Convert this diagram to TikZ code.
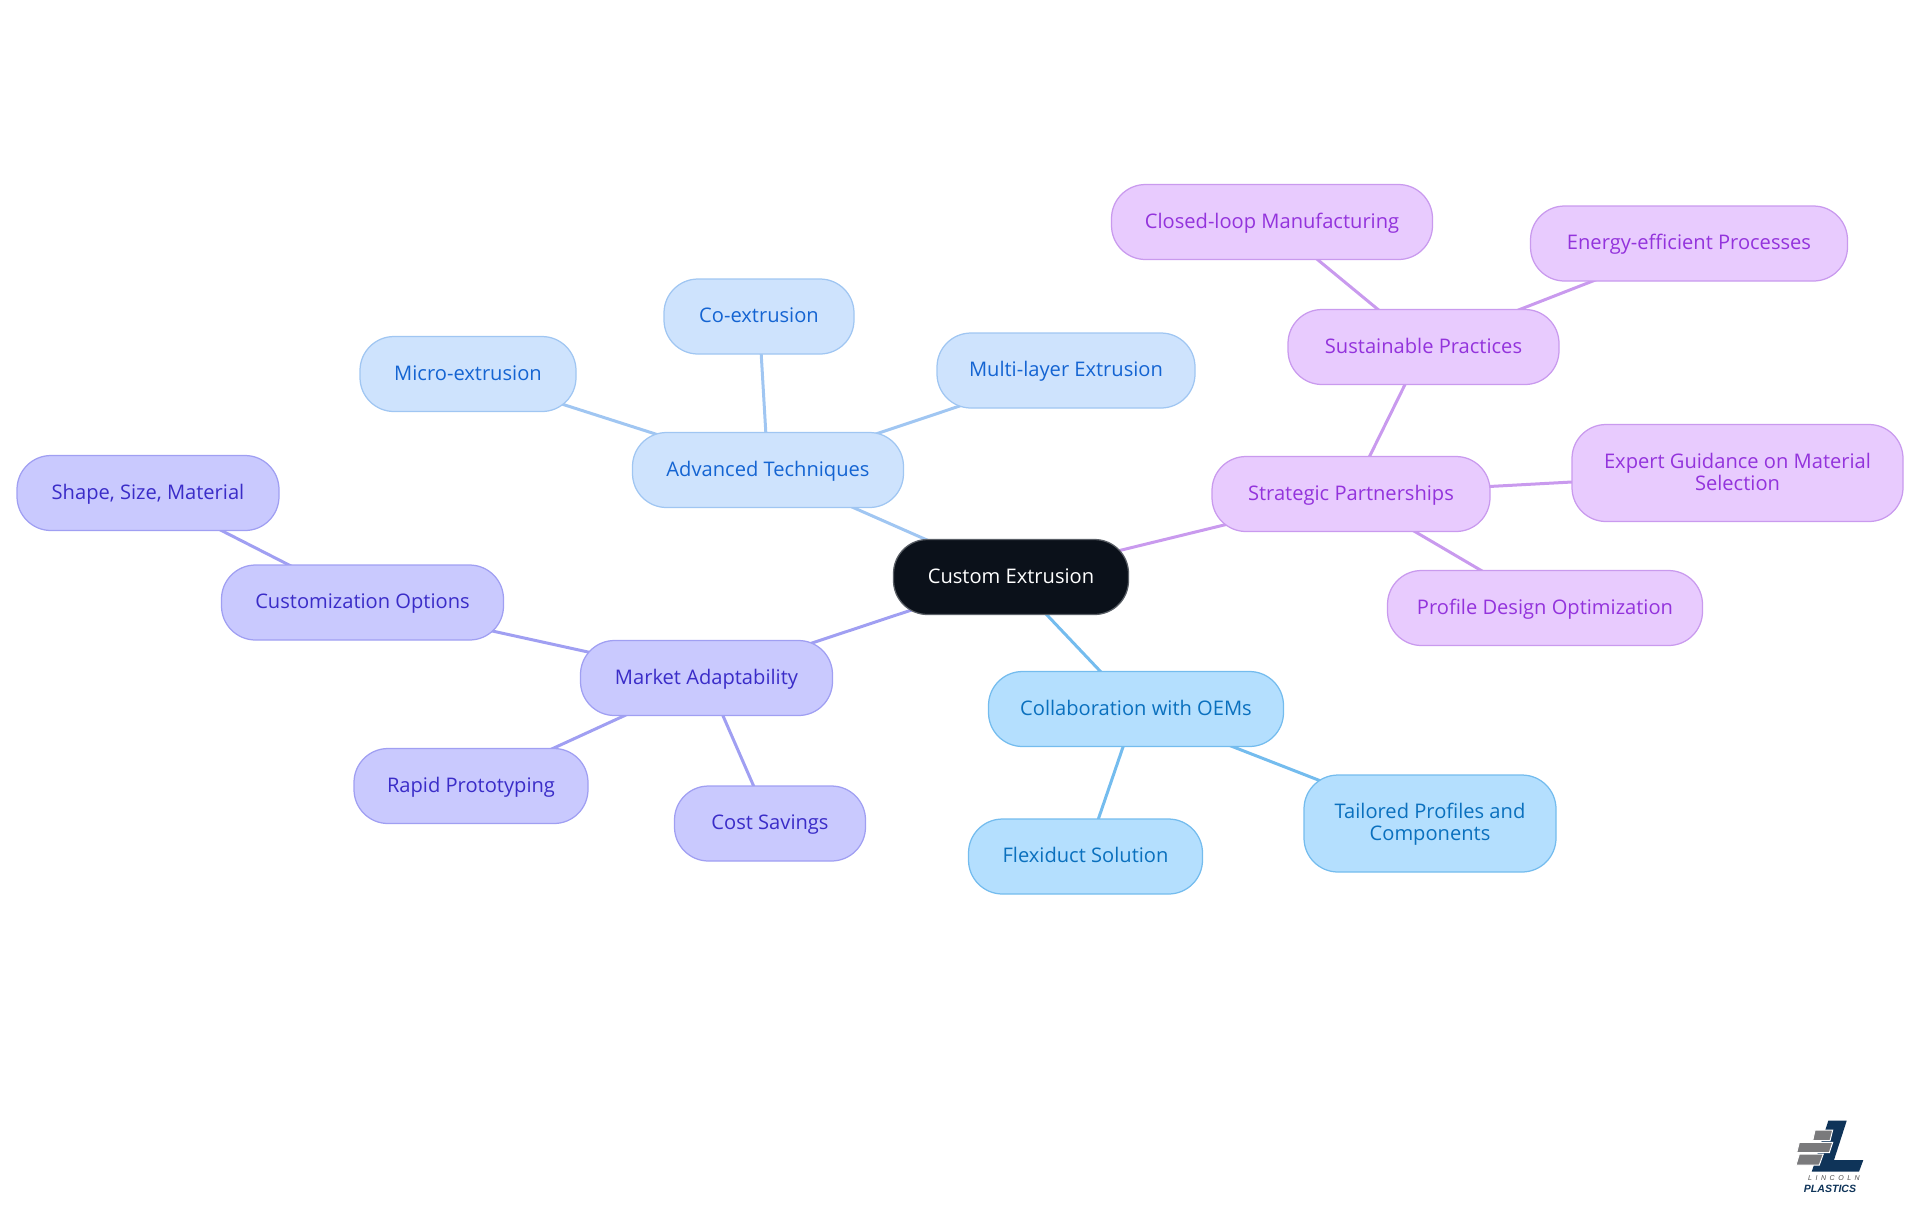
\documentclass[tikz,border=0pt]{standalone}
\usepackage{fontspec}
\setmainfont{Open Sans}
\usetikzlibrary{backgrounds}
\newfontfamily\logofont{Liberation Sans}
\definecolor{rootfill}{HTML}{0B111A}
\definecolor{rootline}{HTML}{5A5F66}
\definecolor{techfill}{HTML}{CEE3FD}
\definecolor{techline}{HTML}{A0C6F2}
\definecolor{techtext}{HTML}{1464D2}
\definecolor{partfill}{HTML}{E8CBFE}
\definecolor{partline}{HTML}{C99AEE}
\definecolor{parttext}{HTML}{9333DC}
\definecolor{markfill}{HTML}{C9C9FE}
\definecolor{markline}{HTML}{A09FF2}
\definecolor{marktext}{HTML}{3A2CC8}
\definecolor{oemfill}{HTML}{B4DFFE}
\definecolor{oemline}{HTML}{74BCEE}
\definecolor{oemtext}{HTML}{0A70BE}
\definecolor{logoblue}{HTML}{0F3459}
\definecolor{logogray}{HTML}{7A7A7C}
\tikzset{
  wd/.style={minimum width=#1*0.02cm},
  mapnode/.style={draw,line width=0.025cm,rounded corners=0.68cm,inner sep=0pt,minimum height=1.5cm,text height=10pt,text depth=2.8pt,align=center,font=\fontsize{11.45}{12.4}\selectfont},
  twoline/.style={minimum height=1.94cm,text height=22.4pt},
  rootnode/.style={mapnode,fill=rootfill,draw=rootline,text=white},
  technode/.style={mapnode,fill=techfill,draw=techline,text=techtext},
  partnode/.style={mapnode,fill=partfill,draw=partline,text=parttext},
  marknode/.style={mapnode,fill=markfill,draw=markline,text=marktext},
  oemnode/.style={mapnode,fill=oemfill,draw=oemline,text=oemtext},
  link/.style={line width=0.06cm}
}
\begin{document}
\begin{tikzpicture}[x=0.02cm,y=-0.02cm]
\useasboundingbox (0,0) rectangle (1920,1215);
\node [rootnode,wd=235] (root) at (1011,577) {Custom Extrusion};
\node [technode,wd=271] (tech) at (768,470) {Advanced Techniques};
\node [technode,wd=216] (micro) at (468,374) {Micro-extrusion};
\node [technode,wd=190] (coex) at (759,316.5) {Co-extrusion};
\node [technode,wd=258] (multi) at (1066,370.5) {Multi-layer Extrusion};
\node [marknode,wd=252] (market) at (706.5,678) {Market Adaptability};
\node [marknode,wd=282] (custom) at (362.5,602.5) {Customization Options};
\node [marknode,wd=262] (shape) at (148,493) {Shape, Size, Material};
\node [marknode,wd=234] (rapid) at (471,786) {Rapid Prototyping};
\node [marknode,wd=191] (cost) at (770,823.5) {Cost Savings};
\node [oemnode,wd=295] (collab) at (1136,709) {Collaboration with OEMs};
\node [oemnode,wd=234] (flexi) at (1085.5,856.5) {Flexiduct Solution};
\node [oemnode,wd=252,twoline] (tailor) at (1430,823.5) {Tailored Profiles and\\Components};
\node [partnode,wd=278] (strat) at (1351,494) {Strategic Partnerships};
\node [partnode,wd=271] (sustain) at (1423.5,347) {Sustainable Practices};
\node [partnode,wd=321] (closed) at (1272,222) {Closed-loop Manufacturing};
\node [partnode,wd=317] (energy) at (1689,243.5) {Energy-efficient Processes};
\node [partnode,wd=331,twoline] (expert) at (1737.5,473) {Expert Guidance on Material\\Selection};
\node [partnode,wd=315] (profile) at (1545,608) {Profile Design Optimization};
\begin{scope}[on background layer]
\draw [link,techline] (root.center) -- (tech.center);
\draw [link,techline] (tech.center) -- (micro.center);
\draw [link,techline] (tech.center) -- (coex.center);
\draw [link,techline] (tech.center) -- (multi.center);
\draw [link,markline] (root.center) -- (market.center);
\draw [link,markline] (market.center) -- (custom.center);
\draw [link,markline] (custom.center) -- (shape.center);
\draw [link,markline] (market.center) -- (rapid.center);
\draw [link,markline] (market.center) -- (cost.center);
\draw [link,oemline] (root.center) -- (collab.center);
\draw [link,oemline] (collab.center) -- (flexi.center);
\draw [link,oemline] (collab.center) -- (tailor.center);
\draw [link,partline] (root.center) -- (strat.center);
\draw [link,partline] (strat.center) -- (sustain.center);
\draw [link,partline] (sustain.center) -- (closed.center);
\draw [link,partline] (sustain.center) -- (energy.center);
\draw [link,partline] (strat.center) -- (expert.center);
\draw [link,partline] (strat.center) -- (profile.center);
\end{scope}
% logo
\fill [logoblue] (1828.3,1120.7) -- (1846.7,1120.7) -- (1834,1160) -- (1863.3,1160) -- (1859,1171.7) -- (1811.7,1171.7) -- cycle;
\fill [logogray,draw=white,line width=0.02cm] (1815,1130) -- (1832.7,1130) -- (1830,1140.7) -- (1812.7,1140.7) -- cycle;
\fill [logogray,draw=white,line width=0.02cm] (1799.3,1142.3) -- (1832.7,1142.3) -- (1829.3,1152.7) -- (1796.7,1152.7) -- cycle;
\fill [logogray,draw=white,line width=0.02cm] (1799.3,1154) -- (1823.3,1154) -- (1819.3,1165) -- (1796,1165) -- cycle;
\node [black!70,inner sep=0pt,font=\logofont\itshape\fontsize{4}{4}\selectfont] (lincoln) at (1834,1178.5) {L\,\,\,I\,\,\,N\,\,\,C\,\,\,O\,\,\,L\,\,\,N};
\node [logoblue,inner sep=0pt,font=\logofont\bfseries\itshape\fontsize{6}{7}\selectfont] (plastics) at (1830,1188.5) {PLASTICS};
\end{tikzpicture}
\end{document}
